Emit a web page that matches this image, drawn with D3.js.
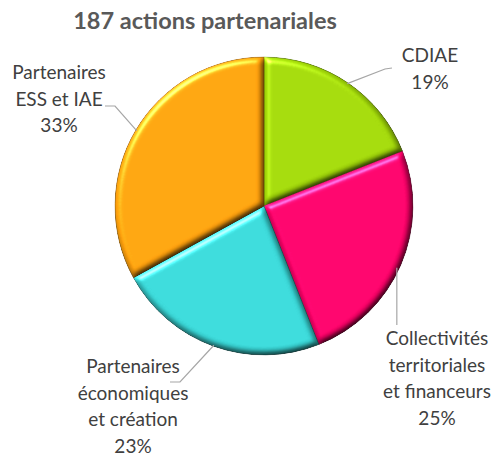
<!DOCTYPE html>
<html>
<head>
<meta charset="utf-8">
<script src="https://cdn.jsdelivr.net/npm/d3@7"></script>
<style>
  html, body { margin: 0; padding: 0; background: #fff; }
  svg { display: block; }
</style>
</head>
<body>
<svg id="chart" width="494" height="456"></svg>
<script>
// ---- data ----
const title = "187 actions partenariales";
const categories = ["CDIAE", "Collectivités territoriales et financeurs", "Partenaires économiques et création", "Partenaires ESS et IAE"];
const values = [19, 25, 23, 33];
const labelLines = [["CDIAE"], ["Collectivités", "territoriales", "et financeurs"], ["Partenaires", "économiques", "et création"], ["Partenaires", "ESS et IAE"]];
const colors = ["#a0d608", "#fb0068", "#38d6d6", "#ffa10c"];

// ---- layout ----
const W = 494, H = 456;
const cx = 264, cy = 206, R = 149;
const lineH = 26.5;
// label anchors (center x, first baseline y) and leader elbows, relative to pie center
const labelLayout = [
  { tx: 166, ty: -144, elbow: [[121, -137], [128, -138]] },
  { tx: 173, ty: 139, elbow: [[133, 119]] , vertical: true },
  { tx: -131, ty: 167, elbow: [[-84, 176], [-94, 176]] },
  { tx: -205, ty: -127, elbow: [[-149, -100], [-159, -100]] }
];

const svg = d3.select("#chart");
const defs = svg.append("defs");

const f = defs.append("filter").attr("id", "bevel")
  .attr("x", "-10%").attr("y", "-10%").attr("width", "120%").attr("height", "120%")
  .attr("color-interpolation-filters", "sRGB");
f.append("feGaussianBlur").attr("in", "SourceAlpha").attr("stdDeviation", 3.2).attr("result", "blur");
const diff = f.append("feDiffuseLighting").attr("in", "blur").attr("surfaceScale", 4)
  .attr("diffuseConstant", 1).attr("lighting-color", "#fff").attr("result", "diff");
diff.append("feDistantLight").attr("azimuth", 235).attr("elevation", 60);
f.append("feComposite").attr("in", "SourceGraphic").attr("in2", "diff")
  .attr("operator", "arithmetic").attr("k1", 1.155).attr("k2", 0).attr("k3", 0).attr("k4", 0).attr("result", "lit");
const spec = f.append("feSpecularLighting").attr("in", "blur").attr("surfaceScale", 4)
  .attr("specularConstant", 0.5).attr("specularExponent", 30).attr("lighting-color", "#fff").attr("result", "spec");
spec.append("feDistantLight").attr("azimuth", 235).attr("elevation", 40);
f.append("feComposite").attr("in", "lit").attr("in2", "spec")
  .attr("operator", "arithmetic").attr("k1", 0).attr("k2", 1).attr("k3", 1).attr("k4", 0).attr("result", "lit2");
f.append("feComposite").attr("in", "lit2").attr("in2", "SourceAlpha").attr("operator", "in");

// title
svg.append("text")
  .attr("x", 205).attr("y", 29)
  .attr("text-anchor", "middle")
  .style("font-family", "Lato, 'Open Sans', sans-serif")
  .style("font-weight", "bold")
  .style("font-size", "23.5px")
  .style("fill", "#595959")
  .text(title);

const pie = d3.pie().sort(null).value(d => d)(values);
const arc = d3.arc().innerRadius(0).outerRadius(R);
const g = svg.append("g").attr("transform", `translate(${cx},${cy})`);

g.selectAll("path.slice").data(pie).join("path")
  .attr("class", "slice")
  .attr("d", arc)
  .attr("fill", (d, i) => colors[i])
  .attr("stroke", (d, i) => d3.color(colors[i]).darker(1.2))
  .attr("stroke-width", 0.8)
  .attr("filter", "url(#bevel)");

// leader lines
const total = d3.sum(values);
pie.forEach((d, i) => {
  const a = (d.startAngle + d.endAngle) / 2;
  const p0 = [Math.sin(a) * (R - 1), -Math.cos(a) * (R - 1)];
  const L = labelLayout[i];
  let pts;
  if (L.vertical) pts = [[p0[0] - 3, p0[1] + 3], [p0[0] - 3, L.elbow[0][1]]];
  else pts = [p0, ...L.elbow];
  g.append("path")
    .attr("d", d3.line()(pts))
    .attr("fill", "none")
    .attr("stroke", "#a6a6a6")
    .attr("stroke-width", 1.2);

  const lines = labelLines[i].concat([Math.round(d.data / total * 100) + "%"]);
  const t = g.append("text")
    .attr("text-anchor", "middle")
    .style("font-family", "Lato, 'Open Sans', sans-serif")
    .style("font-size", "19px")
    .style("fill", "#404040");
  lines.forEach((s, k) => {
    t.append("tspan").attr("x", L.tx).attr("y", L.ty + k * lineH).text(s);
  });
});
</script>
</body>
</html>
